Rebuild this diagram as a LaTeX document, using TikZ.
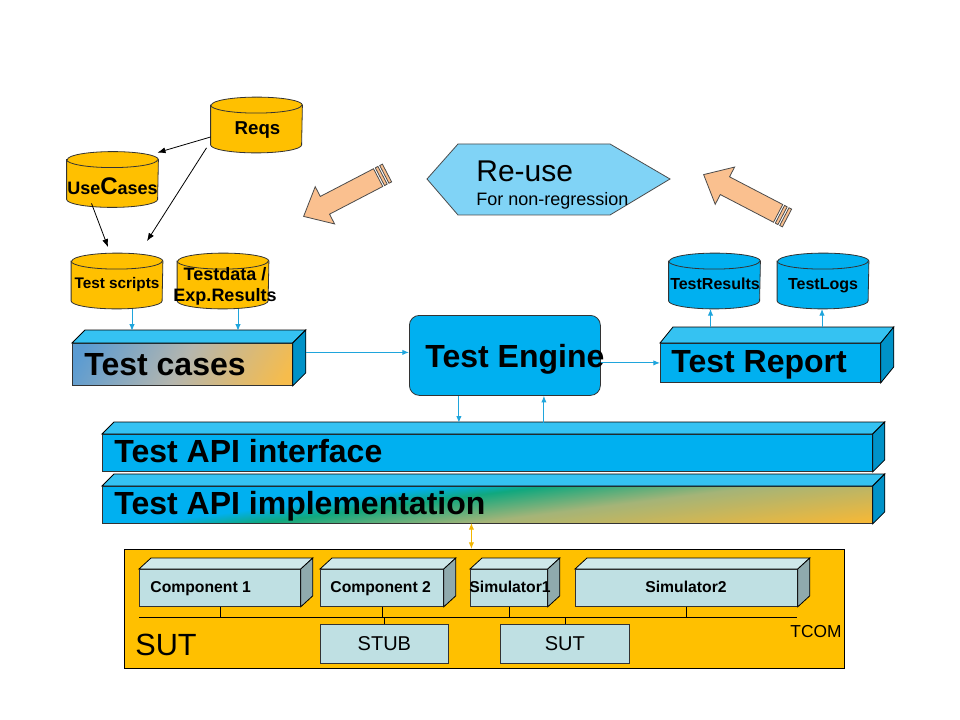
\documentclass[tikz,border=0pt]{standalone}
\usepackage{fontspec}
\setmainfont{Liberation Sans}
\usetikzlibrary{arrows.meta,calc}

\definecolor{sky}{HTML}{00B0F0}
\definecolor{skytop}{HTML}{35C2F2}
\definecolor{skyside}{HTML}{0092C8}
\definecolor{skyline}{HTML}{1FA5DC}
\definecolor{gold}{HTML}{FFC000}
\definecolor{goldline}{HTML}{F2B600}
\definecolor{peach}{HTML}{FAC08F}
\definecolor{hexblue}{HTML}{80D3F6}
\definecolor{compface}{HTML}{BFE0E3}
\definecolor{comptop}{HTML}{CFE8EA}
\definecolor{compside}{HTML}{8FAAAD}
\definecolor{tcblue}{HTML}{5A9BD2}
\definecolor{tcgray}{HTML}{B5B6AE}
\definecolor{tcorange}{HTML}{F6BC4C}
\definecolor{apigreen}{HTML}{10A87E}
\definecolor{apikhaki}{HTML}{A4B478}
\definecolor{apiorange}{HTML}{F4B838}

\pgfdeclarehorizontalshading{casesshade}{100bp}{color(0bp)=(tcblue); color(30bp)=(tcblue); color(50bp)=(tcgray); color(70bp)=(tcorange); color(100bp)=(tcorange)}
\pgfdeclarehorizontalshading{implshade}{100bp}{color(0bp)=(sky); color(48.4bp)=(sky); color(49.3bp)=(apigreen); color(51bp)=(apikhaki); color(54bp)=(apiorange); color(100bp)=(apiorange)}

\newcommand{\px}{0.75pt}

% top and right faces of a box drawn on a front node
\newcommand{\slab}[5]{%
  \filldraw[fill=#4] (#1.north west) -- ++(#2,-#3) -- ($(#1.north east)+(#2,-#3)$) -- (#1.north east) -- cycle;
  \filldraw[fill=#5] (#1.north east) -- ++(#2,-#3) -- ($(#1.south east)+(#2,-#3)$) -- (#1.south east) -- cycle;}

% repository drum: name, centre x, centre y, fill
\newcommand{\drum}[4]{%
  \node (#1) at (#2,#3) [inner sep=0, minimum width=91*\px, minimum height=55*\px] {};
  \filldraw[fill=#4, draw=black!80] ($(#1.north west)+(0,8)$) -- ($(#1.south west)+(0,-8)$)
    arc[start angle=180, end angle=360, x radius=45.5*\px, y radius=8*\px]
    -- ($(#1.north east)+(0,8)$)
    arc[start angle=0, end angle=180, x radius=45.5*\px, y radius=8*\px] -- cycle;
  \draw[black!80] ($(#1.north west)+(0,8)$) arc[start angle=180, end angle=360, x radius=45.5*\px, y radius=8*\px];}

% striped block arrow, tail at (#1,#2)
\newcommand{\fatarrow}[3]{%
  \begin{scope}[shift={(#1,#2)}, rotate=#3, fill=peach, draw=black!70]
    \filldraw (0,-10) rectangle (3,10);
    \filldraw (5,-10) rectangle (8,10);
    \filldraw (10,-10) -- (70,-10) -- (70,-21) -- (94,0) -- (70,21) -- (70,10) -- (10,10) -- cycle;
  \end{scope}}

\tikzset{
  face/.style={draw=black!80, inner sep=0, anchor=north west},
  bare/.style={inner sep=0, anchor=north west},
  comp/.style={face, fill=compface, minimum height=37*\px},
  big/.style={font=\bfseries\fontsize{24}{28}\selectfont, anchor=base west, inner sep=0},
  cyllbl/.style={anchor=base, inner sep=0},
  complbl/.style={font=\bfseries\fontsize{11.8}{14}\selectfont, anchor=base west, inner sep=0},
  conn/.style={draw=skyline, line width=0.75pt, -{Latex[length=5pt,width=4pt]}},
  link/.style={line width=0.6pt, -{Latex[length=6pt,width=4.5pt]}},
  sutconn/.style={draw=goldline, line width=0.75pt, {Latex[length=5pt,width=4pt]}-{Latex[length=5pt,width=4pt]}}
}

\begin{document}
\begin{tikzpicture}[x=\px, y=-\px, line width=0.6pt]
  \useasboundingbox (0,0) rectangle (960,720);
  \fill[white] (0,0) rectangle (960,720);

  % repositories
  \drum{reqs}{256.5}{125}{gold}
  \drum{usecases}{112.5}{179.5}{gold}
  \drum{tscripts}{117}{281}{gold}
  \drum{tdata}{223}{281}{gold}
  \drum{tresults}{714.5}{281}{sky}
  \drum{tlogs}{823}{281}{sky}

  \node (reqstxt) at (257.5,135) [cyllbl, font=\bfseries\fontsize{14}{16}\selectfont] {Reqs};
  \node (usecasestxt) at (112.5,195) [cyllbl, font=\bfseries\fontsize{13.5}{16}\selectfont] {Use{\fontsize{18}{18}\selectfont C}ases};
  \node (tscriptstxt) at (117,289) [cyllbl, font=\bfseries\fontsize{11.5}{14}\selectfont] {Test scripts};
  \node (tdatatxt) at (225,281) [cyllbl, font=\bfseries\fontsize{13.5}{16}\selectfont] {Testdata /};
  \node (expres) at (225,301.7) [cyllbl, font=\bfseries\fontsize{13.5}{16}\selectfont] {Exp.Results};
  \node (tresultstxt) at (715,290) [cyllbl, font=\bfseries\fontsize{12}{14}\selectfont] {TestResults};
  \node (tlogstxt) at (823,290) [cyllbl, font=\bfseries\fontsize{12}{14}\selectfont] {TestLogs};

  \draw[link] ($(reqs.west)+(0,12)$) -- ($(usecases.north)+(45,1)$);
  \draw[link] ($(reqs.south)+(-50,-5)$) -- ($(tscripts.north)+(30,-12)$);
  \draw[link] ($(usecases.south)+(-21,-4)$) -- ($(tscripts.north)+(-9,-6)$);

  % re-use
  \filldraw[fill=hexblue, draw=black!70] (427,179) -- (458,144) -- (610,144) -- (670,179) -- (610,215) -- (458,215) -- cycle;
  \node (reuse) at (476,181.7) [anchor=base west, inner sep=0, font=\fontsize{22.5}{26}\selectfont] {Re-use};
  \node (nonreg) at (476,206) [anchor=base west, inner sep=0, font=\fontsize{13.5}{16}\selectfont] {For non-regression};
  \fatarrow{387}{173}{207.5}
  \fatarrow{787}{218}{152.5}

  % test cases, engine, report
  \node (tc) at (72,343) [bare, minimum width=220*\px, minimum height=42*\px] {};
  \begin{scope}
    \clip (tc.south west) rectangle (tc.north east);
    \shade[shading=casesshade, shading angle=-30] ($(tc.center)+(-120,-120)$) rectangle ($(tc.center)+(120,120)$);
  \end{scope}
  \draw[black!80] (tc.south west) rectangle (tc.north east);
  \slab{tc}{13}{13}{skytop}{skyside}
  \node (tctxt) at (84,375) [big] {Test cases};

  \node (engine) at (409,315) [face, fill=sky, rounded corners=7.5pt, minimum width=191*\px, minimum height=80*\px] {};
  \node (enginetxt) at (425,367) [big] {Test Engine};

  \node (report) at (660,343) [face, fill=sky, minimum width=220*\px, minimum height=39*\px] {};
  \slab{report}{13}{16}{skytop}{skyside}
  \node (reporttxt) at (671,372) [big] {Test Report};

  % test API
  \node (api) at (102,434) [face, fill=sky, minimum width=770*\px, minimum height=37*\px] {};
  \slab{api}{12}{12}{skytop}{skyside}
  \node (apitxt) at (114,462) [big] {Test API interface};

  \node (impl) at (102,486) [bare, minimum width=770*\px, minimum height=37*\px] {};
  \begin{scope}
    \clip (impl.south west) rectangle (impl.north east);
    \shade[shading=implshade, shading angle=-82.7] ($(impl.center)+(-400,-400)$) rectangle ($(impl.center)+(400,400)$);
  \end{scope}
  \draw[black!80] (impl.south west) rectangle (impl.north east);
  \slab{impl}{12}{12}{skytop}{skyside}
  \node (impltxt) at (114,514) [big] {Test API implementation};

  % connectors
  \draw[conn] ($(tscripts.south)+(15,0)$) -- ++(0,22);
  \draw[conn] ($(tdata.south)+(15,0)$) -- ++(0,22);
  \coordinate (tcout) at ($(tc.east)+(13,-12)$);
  \draw[conn] (tcout) -- (tcout -| engine.west);
  \draw[conn] (engine.east |- report.west) -- (report.west);
  \draw[conn] ($(tresults.south)+(-4,18)$) -- ($(tresults.south)+(-4,0)$);
  \draw[conn] ($(tlogs.south)+(-1,18)$) -- ($(tlogs.south)+(-1,0)$);
  \draw[conn] ($(engine.south)+(-46,0)$) -- ++(0,27);
  \draw[conn] ($(engine.south)+(39,27)$) -- ++(0,-27);

  % system under test
  \node (sut) at (124,549) [face, draw=black, fill=gold, minimum width=720*\px, minimum height=119*\px] {};
  \draw[sutconn] ($(sut.north)+(-13,0)$) -- ++(0,-26);

  \node (c1) at (139,569) [comp, minimum width=161*\px] {};
  \slab{c1}{12}{11}{comptop}{compside}
  \node (c2) at (320,569) [comp, minimum width=123*\px] {};
  \slab{c2}{12}{11}{comptop}{compside}
  \node (s1) at (470,569) [comp, minimum width=77*\px] {};
  \slab{s1}{12}{11}{comptop}{compside}
  \node (s2) at (575,569) [comp, minimum width=222*\px] {};
  \slab{s2}{12}{11}{comptop}{compside}

  \node (c1txt) at (150,592) [complbl] {Component 1};
  \node (c2txt) at (330,592) [complbl] {Component 2};
  \node (s1txt) at (469,592) [complbl] {Simulator1};
  \node (s2txt) at (686,592) [complbl, anchor=base] {Simulator2};

  \node (stub) at (320,624) [face, fill=compface, minimum width=128*\px, minimum height=39*\px, font=\fontsize{15}{18}\selectfont] {STUB};
  \node (dut) at (500,624) [face, fill=compface, minimum width=129*\px, minimum height=39*\px, font=\fontsize{15}{18}\selectfont] {SUT};

  \coordinate (busl) at (139,617);
  \coordinate (busr) at (797,617);
  \draw (busl) -- (busr);
  \foreach \n in {c1,c2,s1,s2}
    \draw (\n.south) -- (\n.south |- busl);
  \foreach \n in {stub,dut}
    \draw (\n.north) -- (\n.north |- busl);

  \node (suttxt) at (135,655) [anchor=base west, inner sep=0, font=\fontsize{23}{27}\selectfont] {SUT};
  \node (tcom) at (790,637) [anchor=base west, inner sep=0, font=\fontsize{13}{15}\selectfont] {TCOM};
\end{tikzpicture}
\end{document}
